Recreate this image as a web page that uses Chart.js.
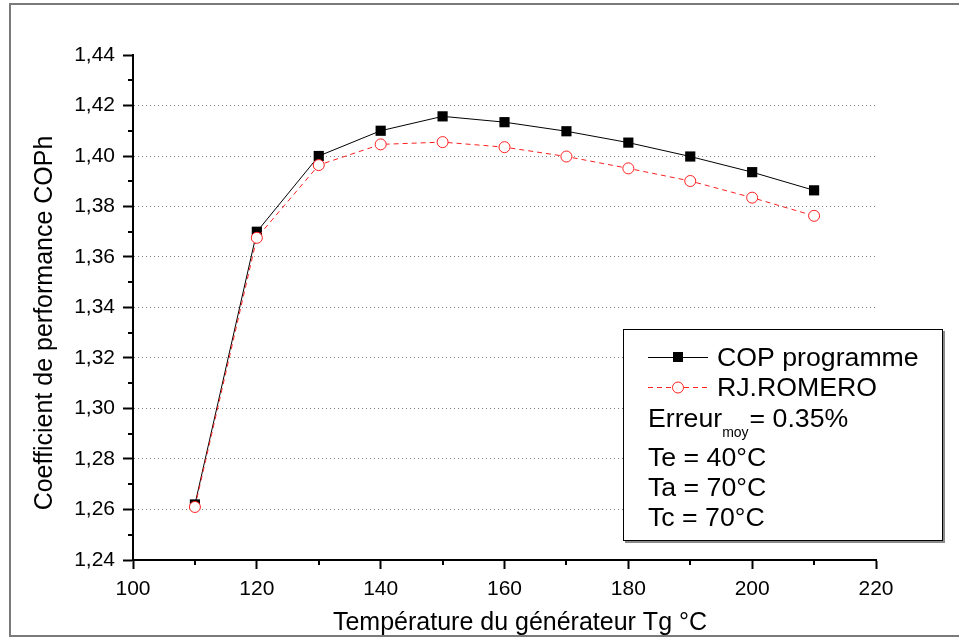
<!DOCTYPE html>
<html>
<head>
<meta charset="utf-8">
<script src="https://cdn.jsdelivr.net/npm/chart.js@4.4.1/dist/chart.umd.min.js"></script>
<style>
  html, body { margin: 0; padding: 0; background: #ffffff; }
  #wrap { width: 959px; height: 638px; position: relative; }
</style>
</head>
<body>
<div id="wrap"><canvas id="c" width="959" height="638"></canvas></div>
<script>
// ---- data ----
const temperatures = [110, 120, 130, 140, 150, 160, 170, 180, 190, 200, 210];
const copProgramme = [1.262, 1.370, 1.400, 1.410, 1.4157, 1.4134, 1.4098, 1.4053, 1.3998, 1.3936, 1.3864];
const rjRomero     = [1.261, 1.3676, 1.3964, 1.4046, 1.4055, 1.4035, 1.3998, 1.3951, 1.3901, 1.3835, 1.3763];
const xTicks = [100, 120, 140, 160, 180, 200, 220];
const yTicks = [1.24, 1.26, 1.28, 1.30, 1.32, 1.34, 1.36, 1.38, 1.40, 1.42, 1.44];
const seriesNames = ['COP programme', 'RJ.ROMERO'];
const xTitle = 'Température du générateur Tg °C';
const yTitle = 'Coefficient de performance COPh';
const infoLines = ['Te = 40°C', 'Ta = 70°C', 'Tc = 70°C'];

const FONT = '"Liberation Sans", Arial, Helvetica, sans-serif';

const toPoints = (ys) => temperatures.map((t, i) => ({ x: t, y: ys[i] }));

const decorPlugin = {
  id: 'decor',
  beforeDraw(chart) {
    const ctx = chart.ctx;
    ctx.save();
    ctx.fillStyle = '#ffffff';
    ctx.fillRect(0, 0, chart.width, chart.height);
    // outer frame (top, left, bottom)
    ctx.strokeStyle = '#7a7a7a';
    ctx.lineWidth = 2;
    ctx.beginPath();
    ctx.moveTo(959, 4); ctx.lineTo(10, 4); ctx.lineTo(10, 636); ctx.lineTo(959, 636);
    ctx.stroke();
    ctx.restore();
  },
  afterDraw(chart) {
    const ctx = chart.ctx;
    const xs = chart.scales.x, ys = chart.scales.y;
    const area = chart.chartArea;
    ctx.save();
    // minor ticks
    ctx.strokeStyle = '#000';
    ctx.lineWidth = 2;
    for (let i = 0; i < yTicks.length - 1; i++) {
      const v = (yTicks[i] + yTicks[i + 1]) / 2;
      const py = Math.round(ys.getPixelForValue(v)) ;
      ctx.beginPath(); ctx.moveTo(area.left - 5, py); ctx.lineTo(area.left, py); ctx.stroke();
    }
    for (let i = 0; i < xTicks.length - 1; i++) {
      const v = (xTicks[i] + xTicks[i + 1]) / 2;
      const px = Math.round(xs.getPixelForValue(v));
      ctx.beginPath(); ctx.moveTo(px, area.bottom); ctx.lineTo(px, area.bottom + 5); ctx.stroke();
    }
    // axis titles
    ctx.fillStyle = '#000';
    ctx.font = '25px ' + FONT;
    ctx.textAlign = 'center';
    ctx.textBaseline = 'alphabetic';
    ctx.fillText(xTitle, 520, 630);
    ctx.save();
    ctx.translate(52, 323);
    ctx.rotate(-Math.PI / 2);
    ctx.fillText(yTitle, 0, 0);
    ctx.restore();

    // legend box
    const bx = 623, by = 329, bw = 320, bh = 212;
    ctx.fillStyle = '#ffffff';
    ctx.fillRect(bx, by, bw, bh);
    ctx.strokeStyle = '#8a8a8a';
    ctx.lineWidth = 2;
    ctx.beginPath();
    ctx.moveTo(bx + 2, by + bh + 1); ctx.lineTo(bx + bw + 1, by + bh + 1); ctx.lineTo(bx + bw + 1, by + 2);
    ctx.stroke();
    ctx.strokeStyle = '#000';
    ctx.lineWidth = 1;
    ctx.strokeRect(bx + 0.5, by + 0.5, bw - 1, bh - 1);

    // legend samples
    const sx1 = 648, sx2 = 708, smid = 678;
    // COP programme
    ctx.strokeStyle = '#000'; ctx.lineWidth = 1; ctx.setLineDash([]);
    ctx.beginPath(); ctx.moveTo(sx1, 357.5); ctx.lineTo(sx2, 357.5); ctx.stroke();
    ctx.fillStyle = '#000';
    ctx.fillRect(smid - 5, 352, 10, 10);
    // RJ.ROMERO
    ctx.strokeStyle = '#ff2020'; ctx.setLineDash([5, 4]);
    ctx.beginPath(); ctx.moveTo(sx1, 387.5); ctx.lineTo(sx2, 387.5); ctx.stroke();
    ctx.setLineDash([]);
    ctx.fillStyle = '#fff';
    ctx.beginPath(); ctx.arc(smid, 387.5, 5.5, 0, Math.PI * 2); ctx.fill(); ctx.stroke();

    ctx.fillStyle = '#000';
    ctx.textAlign = 'left';
    ctx.textBaseline = 'alphabetic';
    ctx.font = '26.7px ' + FONT;
    ctx.fillText(seriesNames[0], 717, 366);
    ctx.fillText(seriesNames[1], 717, 396);
    ctx.fillText('Erreur', 648, 427);
    const w1 = ctx.measureText('Erreur').width;
    ctx.font = '14px ' + FONT;
    ctx.fillText('moy', 648 + w1, 437);
    const w2 = ctx.measureText('moy').width;
    ctx.font = '26.7px ' + FONT;
    ctx.fillText('= 0.35%', 648 + w1 + w2 + 1, 427);
    ctx.fillText(infoLines[0], 648, 466);
    ctx.fillText(infoLines[1], 648, 496);
    ctx.fillText(infoLines[2], 648, 526);
    ctx.restore();
  }
};

const near = (a, b) => Math.abs(a - b) < 1e-6;

new Chart(document.getElementById('c'), {
  type: 'line',
  data: {
    datasets: [
      {
        label: seriesNames[1],
        data: toPoints(rjRomero),
        borderColor: '#ff2020',
        borderWidth: 1,
        borderDash: [5, 4],
        pointStyle: 'circle',
        pointRadius: 5.5,
        pointBorderWidth: 1,
        pointBackgroundColor: '#ffffff',
        pointBorderColor: '#ff2020',
        tension: 0,
        order: 0
      },
      {
        label: seriesNames[0],
        data: toPoints(copProgramme),
        borderColor: '#000000',
        borderWidth: 1,
        pointStyle: 'rect',
        pointRadius: 7.2,
        pointBorderWidth: 0,
        pointBackgroundColor: '#000000',
        pointBorderColor: '#000000',
        tension: 0,
        order: 1
      }
    ]
  },
  options: {
    responsive: false,
    animation: false,
    devicePixelRatio: 1,
    layout: { padding: { top: 55, right: 83, left: 0, bottom: 0 } },
    plugins: { legend: { display: false }, tooltip: { enabled: false } },
    scales: {
      x: {
        type: 'linear',
        min: 100, max: 220,
        afterFit(s) { s.height = 78; },
        afterBuildTicks(s) { s.ticks = xTicks.map(v => ({ value: v })); },
        ticks: {
          color: '#000',
          font: { family: FONT, size: 21 },
          padding: 8,
          maxRotation: 0,
          callback: (v) => String(v)
        },
        grid: {
          drawOnChartArea: false,
          drawTicks: true,
          tickLength: 9,
          tickWidth: 2,
          tickColor: '#000'
        },
        border: { display: true, color: '#000', width: 2 }
      },
      y: {
        type: 'linear',
        min: 1.24, max: 1.44,
        afterFit(s) { s.width = 133; },
        afterBuildTicks(s) { s.ticks = yTicks.map(v => ({ value: v })); },
        ticks: {
          color: '#000',
          font: { family: FONT, size: 21 },
          padding: 8,
          callback: (v) => Number(v).toFixed(2).replace('.', ',')
        },
        grid: {
          drawOnChartArea: true,
          drawTicks: true,
          tickLength: 10,
          tickWidth: 2,
          tickColor: '#000',
          lineWidth: 1,
          color: (c) => (c.tick && (near(c.tick.value, 1.44) || near(c.tick.value, 1.24))) ? 'rgba(0,0,0,0)' : '#808080'
        },
        border: { display: true, color: '#000', width: 2, dash: [1, 3] }
      }
    }
  },
  plugins: [decorPlugin]
});
</script>
</body>
</html>
